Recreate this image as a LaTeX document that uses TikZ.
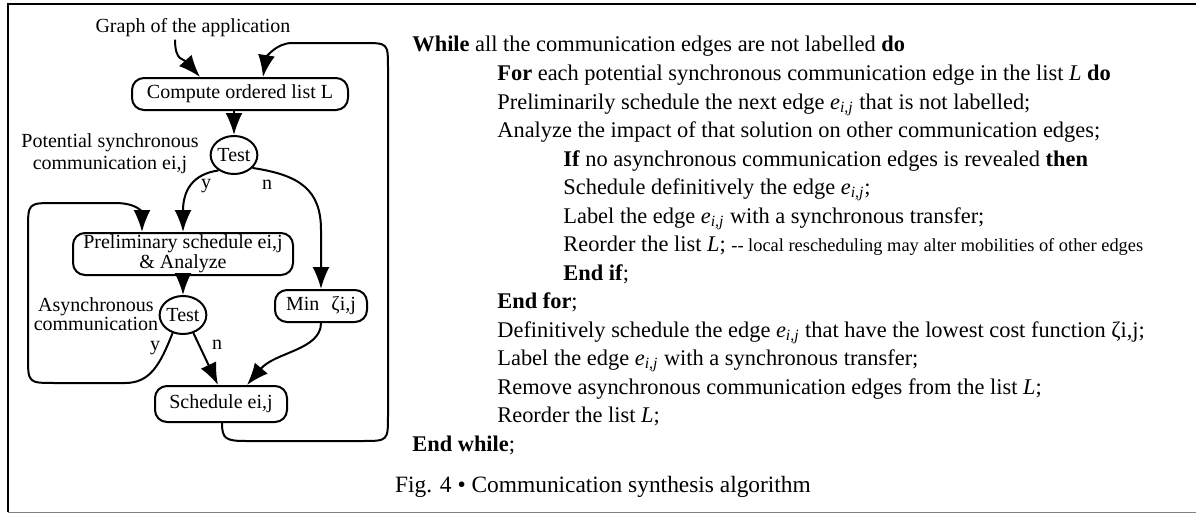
\documentclass[tikz,border=0pt]{standalone}
\usepackage{fontspec}
\setmainfont{Liberation Serif}
\usetikzlibrary{arrows.meta,shapes.geometric,calc}
\newcommand{\eij}{\textit{e}\textsubscript{\textit{i,j}}}
\begin{document}
\begin{tikzpicture}[x=0.5pt,y=-0.5pt,
  box/.style={draw, line width=1pt, rounded corners=6pt, inner sep=0pt, font=\fontsize{10}{10}\selectfont, align=center},
  testnode/.style={draw, ellipse, line width=1pt, inner sep=0pt, minimum width=22pt, minimum height=19pt, font=\fontsize{10}{11}\selectfont},
  lbl/.style={font=\fontsize{10}{11}\selectfont, align=center, inner sep=0pt},
  conn/.style={line width=1pt, -{Latex[length=11pt,width=8.5pt]}},
  alg/.style={anchor=base west, inner sep=0pt, font=\fontsize{11.2}{13}\selectfont},
]
\useasboundingbox (0,0) rectangle (1196,514);
% frame
\draw[line width=1.2pt] (8,512) -- (8,4) -- (1196,4);
\draw[gray, line width=0.5pt] (8,512) -- (1196,512);

% diagram nodes
\node[lbl] (graph) at (193,28) {Graph of the application};
\node[box, minimum width=108pt, minimum height=16pt] (compute) at (240,94) {Compute ordered list L};
\node[testnode] (test1) at (234,155) {Test};
\node[lbl] (potential) at (110,154) {Potential synchronous\\communication ei,j};
\node[box, minimum width=110pt, minimum height=21pt] (prelim) at (183,254) {Preliminary schedule ei,j\\\& Analyze};
\node[testnode] (test2) at (183,315) {Test};
\node[lbl, font=\fontsize{10}{9.5}\selectfont] (async) at (96,314) {Asynchronous\\communication};
\node[box, minimum width=46pt, minimum height=16pt] (min) at (321,306) {Min\hspace{0.6em}ζi,j};
\node[box, minimum width=66pt, minimum height=18pt] (sched) at (221,404) {Schedule ei,j};
\node[lbl] (y1) at (206,186) {y};
\node[lbl] (n1) at (267,185) {n};
\node[lbl] (y2) at (155,348) {y};
\node[lbl] (n2) at (217,345) {n};

% connectors
\draw[conn] ($(graph.south)+(-18,2)$) .. controls +(0,22) and +(-16,-18) .. ($(compute.north)+(-40,0)$);
\draw[conn] ($(sched.south)+(1,0)$) .. controls +(0,16) and (226,441) .. (246,441) -- (362,441)
   .. controls (388,441) and (388,441) .. (388,415) -- (388,68)
   .. controls (388,43) and (388,43) .. (363,43) -- (292,43)
   .. controls (276,43) and (266,58) .. ($(compute.north)+(23,0)$);
\draw[conn] (test1.north |- compute.south) -- (test1.north);
\draw[conn] (test1.225) .. controls (193,174) and (183,190) .. (prelim.north);
\draw[conn] (test1.-35) .. controls (300,175) and (321,190) .. (321,230) -- (min.north);
\draw[conn] (prelim.south) -- (test2.north);
\draw[conn] (test2.240) .. controls (160,365) and (150,383) .. (125,383) -- (55,383)
   .. controls (28,383) and (28,383) .. (28,356) -- (28,230)
   .. controls (28,203) and (28,203) .. (55,203) -- (115,203)
   .. controls (138,203) and (142,213) .. ($(prelim.north)+(-41,0)$);
\draw[conn] (test2.-60) -- ($(sched.north)+(-3,0)$);
\draw[conn] (min.south) .. controls (321,350) and (275,352) .. ($(sched.north)+(26,0)$);

% algorithm
\node[alg] (a1) at (412,52) {\textbf{While} all the communication edges are not labelled \textbf{do}};
\node[alg] (a2) at (497,80.5) {\textbf{For} each potential synchronous communication edge in the list \textit{L} \textbf{do}};
\node[alg] (a3) at (497,109) {Preliminarily schedule the next edge \eij{} that is not labelled;};
\node[alg] (a4) at (497,137.5) {Analyze the impact of that solution on other communication edges;};
\node[alg] (a5) at (563,166) {\textbf{If} no asynchronous communication edges is revealed \textbf{then}};
\node[alg] (a6) at (563,194.5) {Schedule definitively the edge \eij;};
\node[alg] (a7) at (563,223) {Label the edge \eij{} with a synchronous transfer;};
\node[alg] (a8) at (563,251.5) {Reorder the list \textit{L}; {\fontsize{9.2}{10}\selectfont -{}- local rescheduling may alter mobilities of other edges}};
\node[alg] (a9) at (563,280) {\textbf{End if};};
\node[alg] (a10) at (497,308.5) {\textbf{End for};};
\node[alg] (a11) at (497,337) {Definitively schedule the edge \eij{} that have the lowest cost function ζi,j;};
\node[alg] (a12) at (497,365.5) {Label the edge \eij{} with a synchronous transfer;};
\node[alg] (a13) at (497,394) {Remove asynchronous communication edges from the list \textit{L};};
\node[alg] (a14) at (497,422.5) {Reorder the list \textit{L};};
\node[alg] (a15) at (412,451) {\textbf{End while};};
\node[inner sep=0pt, font=\fontsize{11.7}{13}\selectfont] (cap) at (603,487) {Fig. 4 • Communication synthesis algorithm};
\end{tikzpicture}
\end{document}
